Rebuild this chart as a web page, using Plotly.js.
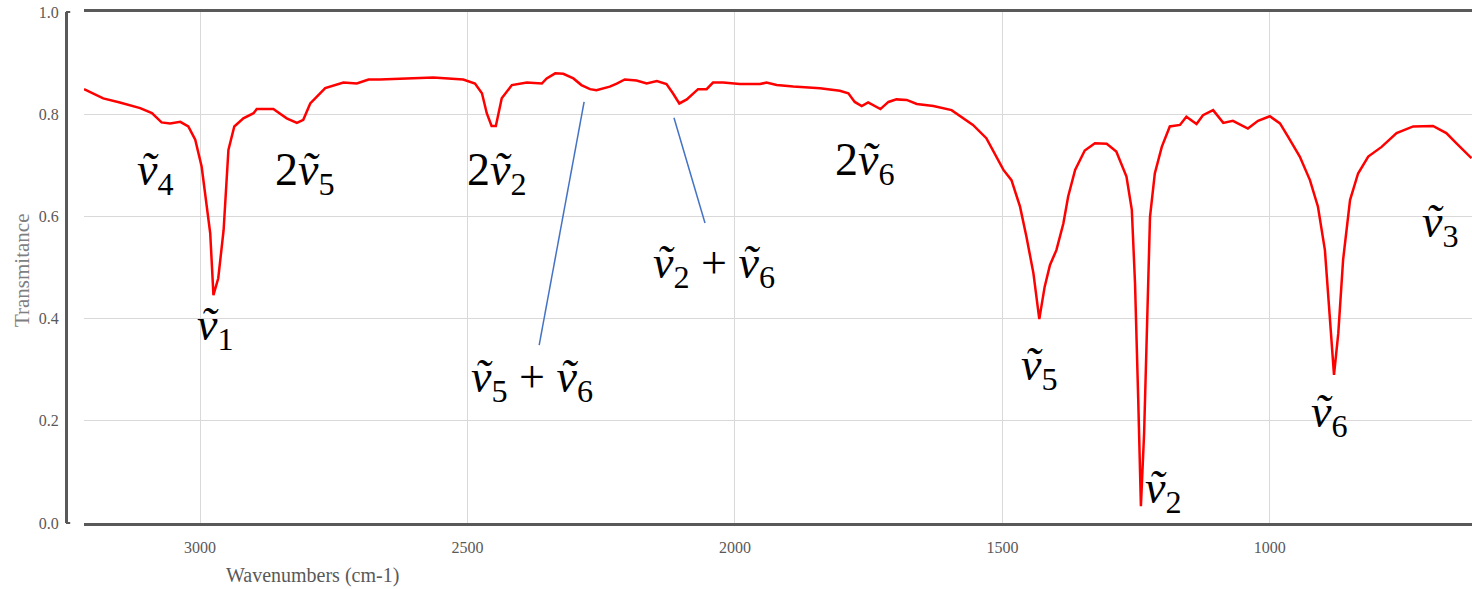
<!DOCTYPE html>
<html>
<head>
<meta charset="utf-8">
<script src="https://cdn.plot.ly/plotly-3.0.1.min.js"></script>
<style>
html,body{margin:0;padding:0;background:#fff;}
#chart{width:1472px;height:589px;}
</style>
</head>
<body>
<div id="chart"></div>
<script>
// Spectrum (wavenumber, cm-1) and transmittance
const wavenumbers = [3217,3181,3150,3112,3090,3072,3056,3037,3022,3009,2997,2989,2981,2975,2966,2956,2947,2936,2919,2900,2894,2863,2838,2819,2807,2794,2766,2732,2707,2685,2664,2614,2564,2508,2486,2473,2464,2455,2447,2436,2417,2389,2361,2352,2336,2321,2302,2287,2271,2259,2234,2221,2206,2184,2165,2146,2128,2116,2104,2090,2069,2053,2041,2022,1991,1953,1941,1922,1891,1841,1804,1788,1776,1763,1751,1728,1713,1698,1679,1660,1629,1595,1573,1555,1530,1517,1498,1483,1467,1455,1442,1431,1421,1411,1399,1386,1377,1364,1346,1327,1305,1287,1268,1258,1252,1246,1241,1235,1230,1224,1215,1202,1187,1168,1156,1137,1125,1106,1087,1069,1041,1022,1000,981,966,944,925,910,897,888,880,872,863,850,835,816,791,763,732,695,670,651,633,623];
const transmittance = [0.849,0.831,0.823,0.812,0.802,0.784,0.782,0.785,0.776,0.750,0.697,0.626,0.567,0.446,0.479,0.573,0.730,0.776,0.792,0.802,0.810,0.810,0.792,0.783,0.789,0.821,0.851,0.862,0.860,0.868,0.868,0.870,0.872,0.868,0.860,0.841,0.802,0.777,0.777,0.831,0.857,0.862,0.860,0.870,0.880,0.879,0.870,0.857,0.849,0.847,0.854,0.860,0.868,0.866,0.860,0.865,0.859,0.841,0.821,0.829,0.849,0.849,0.862,0.862,0.859,0.859,0.862,0.857,0.854,0.851,0.846,0.841,0.824,0.816,0.823,0.810,0.824,0.829,0.828,0.820,0.816,0.808,0.792,0.779,0.753,0.727,0.691,0.671,0.619,0.560,0.489,0.399,0.462,0.505,0.534,0.586,0.639,0.691,0.729,0.743,0.742,0.727,0.678,0.613,0.469,0.241,0.033,0.176,0.371,0.599,0.684,0.736,0.776,0.779,0.795,0.781,0.798,0.808,0.783,0.787,0.772,0.787,0.796,0.782,0.756,0.717,0.671,0.619,0.534,0.404,0.290,0.371,0.515,0.632,0.684,0.717,0.736,0.763,0.776,0.777,0.763,0.743,0.723,0.714];

const xTickVals = [3000, 2500, 2000, 1500, 1000];
const xTickText = ['3000', '2500', '2000', '1500', '1000'];
const yTickVals = [0, 0.2, 0.4, 0.6, 0.8, 1.0];
const yTickText = ['0.0', '0.2', '0.4', '0.6', '0.8', '1.0'];

// Band labels and where they sit (wavenumber, transmittance)
const V = '<i>v\u0303</i>';
const bandLabels = [V + '<sub>4</sub>', V + '<sub>1</sub>', '2' + V + '<sub>5</sub>', '2' + V + '<sub>2</sub>',
  V + '<sub>5</sub> + ' + V + '<sub>6</sub>', V + '<sub>2</sub> + ' + V + '<sub>6</sub>', '2' + V + '<sub>6</sub>',
  V + '<sub>5</sub>', V + '<sub>2</sub>', V + '<sub>6</sub>', V + '<sub>3</sub>'];
const labelWn = [3084, 2972, 2804, 2445, 2379, 2039, 1757, 1430, 1198, 888, 681];
const labelT = [0.685, 0.382, 0.685, 0.685, 0.280, 0.503, 0.705, 0.303, 0.063, 0.211, 0.583];

// Leader lines for combination bands: [wn0, T0, wn1, T1]
const leaderLines = [[2282, 0.824, 2366, 0.348], [2114, 0.793, 2056, 0.587]];

const serif = 'Liberation Serif, Times New Roman, serif';

const annotations = bandLabels.map((t, i) => ({
  text: t, x: labelWn[i], y: labelT[i], xref: 'x', yref: 'y',
  xanchor: 'center', yanchor: 'middle', showarrow: false,
  font: {family: serif, size: 46, color: '#000'}
}));
annotations.push({
  text: 'Wavenumbers (cm-1)', xref: 'paper', yref: 'paper', x: 0.175, y: -0.1037,
  xanchor: 'center', yanchor: 'middle', showarrow: false,
  font: {family: serif, size: 20, color: '#595959'}
});
annotations.push({
  text: 'Transmitance', xref: 'paper', yref: 'paper', x: -0.0313, y: 0.495, textangle: -90,
  xanchor: 'center', yanchor: 'middle', showarrow: false,
  font: {family: serif, size: 21, color: '#7f7f7f'}
});

const shapes = leaderLines.map(l => ({
  type: 'line', xref: 'x', yref: 'y', x0: l[0], y0: l[1], x1: l[2], y1: l[3],
  line: {color: '#4472C4', width: 1.5}
}));
// small corner ticks of the offset y axis
shapes.push({type: 'line', xref: 'paper', yref: 'paper', x0: 0, x1: 0.003, y0: 1, y1: 1, line: {color: '#595959', width: 2}});
shapes.push({type: 'line', xref: 'paper', yref: 'paper', x0: 0, x1: 0.003, y0: 0, y1: 0, line: {color: '#595959', width: 2}});

const trace = {
  x: wavenumbers, y: transmittance, type: 'scatter', mode: 'lines',
  line: {color: '#ff0000', width: 2.5}, hoverinfo: 'x+y'
};

const layout = {
  width: 1472, height: 589,
  margin: {l: 66, r: 0, t: 12, b: 66},
  paper_bgcolor: '#fff', plot_bgcolor: '#fff',
  font: {family: serif, color: '#595959'},
  showlegend: false,
  xaxis: {
    domain: [0.0128, 1],
    range: [3217, 622],
    tickvals: xTickVals, ticktext: xTickText,
    ticks: '', showgrid: true, gridcolor: '#d9d9d9', gridwidth: 1,
    showline: true, mirror: true, linecolor: '#595959', linewidth: 3,
    zeroline: false, ticklabelstandoff: 8,
    tickfont: {family: serif, size: 16, color: '#595959'}
  },
  yaxis: {
    anchor: 'free', position: 0,
    range: [0, 1],
    tickvals: yTickVals, ticktext: yTickText,
    ticks: '', showgrid: true, gridcolor: '#d9d9d9', gridwidth: 1,
    showline: true, linecolor: '#595959', linewidth: 2.5,
    zeroline: false, ticklabelstandoff: 3,
    tickfont: {family: serif, size: 16, color: '#595959'}
  },
  annotations: annotations,
  shapes: shapes
};

Plotly.newPlot('chart', [trace], layout, {displayModeBar: false, staticPlot: true});
</script>
</body>
</html>
